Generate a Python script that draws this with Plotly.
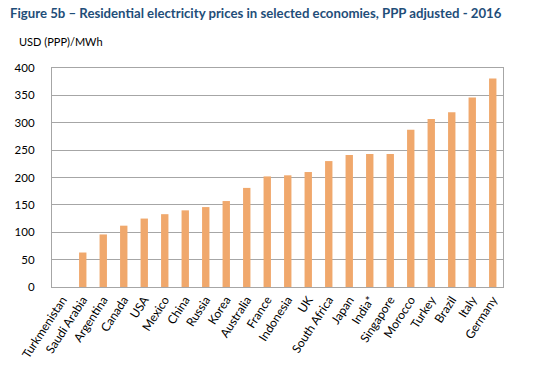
import plotly.graph_objects as go

countries = ["Turkmenistan", "Saudi Arabia", "Argentina", "Canada", "USA", "Mexico",
             "China", "Russia", "Korea", "Australia", "France", "Indonesia", "UK",
             "South Africa", "Japan", "India*", "Singapore", "Morocco", "Turkey",
             "Brazil", "Italy", "Germany"]
prices = [0, 63, 96, 112, 125, 133, 140, 146, 157, 181, 202, 204, 210,
          230, 241, 243, 243, 287, 307, 319, 346, 381]
y_ticks = [0, 50, 100, 150, 200, 250, 300, 350, 400]

FONT = "Lato"
BAR = "#F0A86C"
GRID = "#A6A6A6"

fig = go.Figure(go.Bar(
    x=countries, y=prices,
    marker=dict(color=BAR, line=dict(width=0)),
))

fig.update_layout(
    width=537, height=378,
    margin=dict(l=51.5, r=34, t=67.5, b=90.5),
    paper_bgcolor="white", plot_bgcolor="white",
    bargap=0.64,
    showlegend=False,
    font=dict(family=FONT, size=11, color="#000000"),
    title=dict(
        text="<b>Figure 5b – Residential electricity prices in selected economies, PPP adjusted - 2016</b>",
        x=10/537, xref="container", xanchor="left",
        y=1 - 13/378, yref="container", yanchor="middle",
        font=dict(family=FONT, size=13.2, color="#1F4E79"),
        pad=dict(l=0),
    ),
    annotations=[dict(
        text="USD (PPP)/MWh", xref="paper", yref="paper",
        x=0, y=1, xshift=-35, yshift=18,
        xanchor="left", yanchor="bottom", showarrow=False,
        font=dict(family=FONT, size=11, color="#000000"),
    )],
)

fig.update_xaxes(
    tickangle=-57,
    tickfont=dict(family=FONT, size=12, color="#000000"),
    showline=True, linecolor=GRID, linewidth=1.2, mirror=True,
    showgrid=False, ticks="",
)
fig.update_yaxes(
    range=[0, 400], tickvals=y_ticks,
    tickfont=dict(family=FONT, size=11.5, color="#000000"),
    showgrid=True, gridcolor=GRID, gridwidth=1,
    showline=True, linecolor=GRID, linewidth=1.2, mirror=True,
    zeroline=False, ticks="", ticklabelstandoff=14,
)

fig.write_html("out.html", config={"displayModeBar": False},
               post_script="document.body.style.margin='0';")
